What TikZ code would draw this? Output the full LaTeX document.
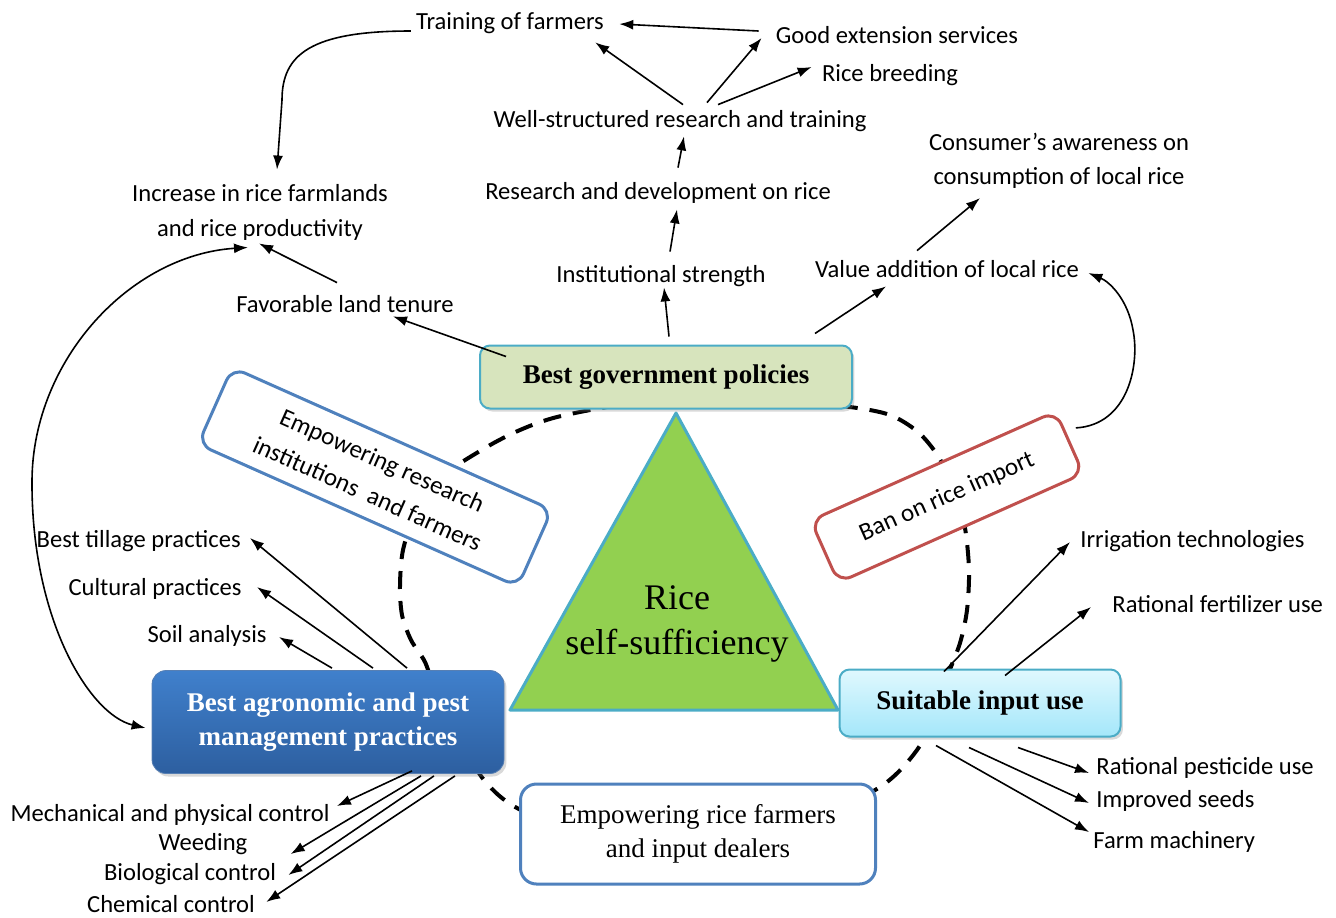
\documentclass[tikz,border=0pt]{standalone}
\usepackage{fontspec}
\setmainfont{Liberation Serif}
\newfontfamily\calibri{Carlito}
\usetikzlibrary{arrows.meta,shadows}

\definecolor{govfill}{RGB}{215,228,189}
\definecolor{tealline}{RGB}{75,172,198}
\definecolor{ricegreen}{RGB}{146,208,80}
\definecolor{agrotop}{RGB}{64,128,204}
\definecolor{agrobot}{RGB}{45,95,160}
\definecolor{inptop}{RGB}{224,248,254}
\definecolor{inpbot}{RGB}{164,231,250}
\definecolor{empblue}{RGB}{79,129,189}
\definecolor{banred}{RGB}{192,80,77}

\tikzset{
  lbl/.style={font=\calibri\fontsize{12.3}{14}\selectfont, inner sep=2pt, text height=9pt, text depth=2pt},
  lbltwo/.style={font=\calibri\fontsize{12.3}{17.5}\selectfont, align=center, inner sep=2pt},
  arr/.style={-{Latex[length=7pt,width=5pt]}, line width=0.8pt},
  arrboth/.style={{Latex[length=7pt,width=5pt]}-{Latex[length=7pt,width=5pt]}, line width=0.8pt},
  mainbox/.style={rounded corners=5pt, font=\fontsize{13.5}{17}\selectfont\bfseries, align=center,
    drop shadow={shadow xshift=1.2pt, shadow yshift=-1.5pt, opacity=0.3}},
  sidebox/.style={draw=empblue, line width=1.5pt, fill=white, rounded corners=7pt,
    font=\calibri\fontsize{12.5}{18}\selectfont, align=center},
}

\begin{document}
\begin{tikzpicture}[x=0.5pt, y=-0.5pt]
\useasboundingbox (0,0) rectangle (1336,917);

% dashed ring round the triangle
\draw[line width=2pt, dash pattern=on 9pt off 6pt] plot[smooth cycle] coordinates {
  (684,400) (780,401) (850,407) (890,415) (918,432) (938,456) (955,490) (965,528)
  (969,570) (967,610) (960,643) (947,677) (935,712) (917,750) (880,787) (800,825)
  (700,842) (600,835) (521,810) (484,780) (455,730) (435,690) (425,662) (411,640)
  (402,615) (400,585) (403,550) (415,515) (440,478) (485,448) (520,430) (557,417) (620,405)};

% centre
\draw[draw=tealline, fill=ricegreen, line width=1.5pt, line join=round] (676,413) -- (838,710) -- (510,710) -- cycle;
\node[align=center, font=\fontsize{18}{22.5}\selectfont] (rsf) at (677,624) {Rice\\self-sufficiency};

% the three pillars
\node[mainbox, draw=agrobot!80, top color=agrotop, bottom color=agrobot, text=white, rounded corners=7pt,
  minimum width=176pt, minimum height=51.5pt] (agro) at (328,722) {Best agronomic and pest\\management practices};
\node[mainbox, draw=tealline, line width=1pt, fill=govfill, minimum width=186pt, minimum height=31.5pt] (gov) at (666,377) {Best government policies};
\node[mainbox, draw=tealline, line width=1pt, top color=inptop, bottom color=inpbot, minimum width=140.5pt, minimum height=33.5pt] (inp) at (980,703) {Suitable input use};

% links between pillars
\node[sidebox, font=\fontsize{13.5}{17}\selectfont, rounded corners=8pt, minimum width=177.5pt, minimum height=50pt] (emprf) at (698,834) {Empowering rice farmers\\and input dealers};
\node[sidebox, rotate=-24, minimum width=175pt, minimum height=42pt] (emprs) at (375,477) {Empowering research\\institutions~ and farmers};
\node[sidebox, draw=banred, rotate=24, minimum width=134pt, minimum height=34pt] (ban) at (947,497) {Ban on rice import};

% policy side
\node[lbl] (tof) at (510,22) {Training of farmers};
\node[lbl] (ges) at (897,36) {Good extension services};
\node[lbl] (rbr) at (890,74) {Rice breeding};
\node[lbl] (wsr) at (680,120) {Well-structured research and training};
\node[lbl] (rdr) at (658,192) {Research and development on rice};
\node[lbl] (ins) at (661,275) {Institutional strength};
\node[lbltwo] (inc) at (260,212) {Increase in rice farmlands\\and rice productivity};
\node[lbl] (flt) at (345,305) {Favorable land tenure};
\node[lbltwo, font=\calibri\fontsize{12.3}{17}\selectfont] (cons) at (1059,161) {Consumer’s awareness on\\consumption of local rice};
\node[lbl] (vad) at (947,270) {Value addition of local rice};

% agronomic side
\node[lbl, anchor=east] (lbt) at (245,540) {Best tillage practices};
\node[lbl, anchor=east] (lcp) at (246,588) {Cultural practices};
\node[lbl, anchor=east] (lsa) at (271,635) {Soil analysis};
\node[lbl] (lmp) at (170,814) {Mechanical and physical control};
\node[lbl] (lwd) at (203,843) {Weeding};
\node[lbl] (lbc) at (190,873) {Biological control};
\node[lbl] (lcc) at (171,905) {Chemical control};

% input side
\node[lbl, anchor=west] (lit) at (1076,540) {Irrigation technologies};
\node[lbl, anchor=west] (lrf) at (1108,605) {Rational fertilizer use};
\node[lbl, anchor=west] (lrp) at (1092,767) {Rational pesticide use};
\node[lbl, anchor=west] (lis) at (1092,800) {Improved seeds};
\node[lbl, anchor=west] (lfm) at (1089,841) {Farm machinery};

% arrows, policies
\draw[arr] ([shift={(-13,-5)}]ges.west) -- ([shift={(11,2)}]tof.east);
\draw[arr] ([shift={(3,0)}]wsr.north) -- ([shift={(-13,5)}]tof.south east);
\draw[arr] ([shift={(27,-2)}]wsr.north) -- ([shift={(-10,2)}]ges.west);
\draw[arr] ([shift={(38,0)}]wsr.north) -- ([shift={(-6,-7)}]rbr.west);
\draw[arr] ([shift={(20,-9)}]rdr.north) -- ([shift={(4,1)}]wsr.south);
\draw[arr] ([shift={(9,-8)}]ins.north) -- ([shift={(19,2)}]rdr.south);
\draw[arr] ([shift={(3,-8)}]gov.north) -- ([shift={(3,-3)}]ins.south);
\draw[arr] ([shift={(27,12)}]gov.north west) -- ([shift={(48,-4)}]flt.south);
\draw[arr] ([shift={(-8,-7)}]flt.north) -- ([shift={(-1,-1)}]inc.south);
\draw[arr] ([shift={(-1,9)}]tof.west) .. controls (310,31) and (282,55) .. (282,100) -- ([shift={(17,-10)}]inc.north);
\draw[arr] ([shift={(-38,-11)}]gov.north east) -- ([shift={(-61,1)}]vad.south);
\draw[arr] ([shift={(-30,-4)}]vad.north) -- ([shift={(-79,5)}]cons.south);
\draw[arr] ([shift={(5,-14)}]ban.east) .. controls (1128,425) and (1140,365) .. (1133,330)
  .. controls (1128,300) and (1110,282) .. ([shift={(5,3)}]vad.east);
\draw[arrboth] ([shift={(-12,3)}]inc.south) .. controls (130,255) and (33,360) .. (32,480)
  .. controls (31,620) and (90,715) .. ([shift={(-6,6)}]agro.west);

% arrows, agronomic practices
\draw[arr] ([shift={(79,-2)}]agro.north) -- ([shift={(5,-2)}]lbt.east);
\draw[arr] ([shift={(45,-2)}]agro.north) -- ([shift={(11,-1)}]lcp.east);
\draw[arr] ([shift={(4,-2)}]agro.north) -- ([shift={(8,2)}]lsa.east);
\draw[arr] ([shift={(84,-3)}]agro.south) -- ([shift={(3,-8)}]lmp.east);
\draw[arr] ([shift={(93,2)}]agro.south) -- ([shift={(39,11)}]lwd.east);
\draw[arr] ([shift={(106,2)}]agro.south) -- ([shift={(8,2)}]lbc.east);
\draw[arr] ([shift={(127,2)}]agro.south) -- ([shift={(7,-3)}]lcc.east);

% arrows, inputs
\draw[arr] ([shift={(-36,3)}]inp.north) -- ([shift={(-6,2)}]lit.west);
\draw[arr] ([shift={(25,7)}]inp.north) -- ([shift={(-17,2)}]lrf.west);
\draw[arr] ([shift={(38,10)}]inp.south) -- ([shift={(-3,6)}]lrp.west);
\draw[arr] ([shift={(-11,10)}]inp.south) -- ([shift={(-3,3)}]lis.west);
\draw[arr] ([shift={(-44,8)}]inp.south) -- ([shift={(0,-9)}]lfm.west);
\end{tikzpicture}
\end{document}
